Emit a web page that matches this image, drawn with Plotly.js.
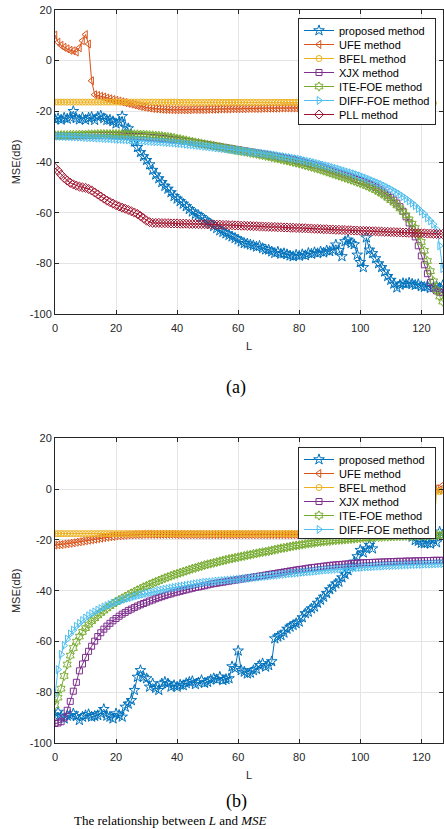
<!DOCTYPE html>
<html><head><meta charset="utf-8">
<script src="https://cdn.plot.ly/plotly-3.0.1.min.js"></script>
<style>html,body{margin:0;padding:0;background:#fff;} #chart{width:444px;height:829px;}</style>
</head><body><div id="chart"></div>
<script>
const L = [0,1,2,3,4,5,6,7,8,9,10,11,12,13,14,15,16,17,18,19,20,21,22,23,24,25,26,27,28,29,30,31,32,33,34,35,36,37,38,39,40,41,42,43,44,45,46,47,48,49,50,51,52,53,54,55,56,57,58,59,60,61,62,63,64,65,66,67,68,69,70,71,72,73,74,75,76,77,78,79,80,81,82,83,84,85,86,87,88,89,90,91,92,93,94,95,96,97,98,99,100,101,102,103,104,105,106,107,108,109,110,111,112,113,114,115,116,117,118,119,120,121,122,123,124,125,126,127];
const seriesNames = ['proposed method','UFE method','BFEL method','XJX method','ITE-FOE method','DIFF-FOE method','PLL method'];
const xTicks = [0,20,40,60,80,100,120];
const yTicks = [-100,-80,-60,-40,-20,0,20];

// ---------- panel (a) ----------
const proposedA = [
-23.2,-22.8,-23.4,-22.6,-23.0,-22.4,-20.0,-22.8,-23.3,-22.5,
-23.4,-22.6,-22.3,-23.5,-22.2,-21.8,-22.8,-23.5,-23.4,-24.0,
-24.9,-24.2,-22.0,-26.2,-26.8,-29.3,-32.0,-34.2,-36.2,-37.8,
-39.3,-41.0,-43.2,-45.0,-46.5,-48.0,-49.5,-50.6,-52.0,-53.5,
-54.5,-55.5,-56.5,-57.5,-58.6,-59.6,-60.5,-61.0,-61.8,-62.8,
-63.6,-64.4,-65.3,-66.1,-67.0,-67.6,-68.2,-68.8,-69.4,-70.0,
-70.6,-71.4,-72.0,-72.2,-72.6,-72.9,-73.4,-73.1,-74.0,-74.5,
-74.6,-75.3,-75.9,-75.4,-76.2,-76.0,-76.4,-76.9,-77.2,-76.6,
-77.0,-76.4,-76.8,-75.9,-76.2,-75.6,-76.0,-75.3,-75.7,-74.9,
-75.2,-74.6,-72.6,-74.8,-77.2,-71.3,-70.7,-72.0,-72.5,-76.6,
-79.5,-81.5,-69.8,-74.6,-76.0,-78.0,-80.0,-81.5,-83.2,-85.0,
-86.5,-88.0,-89.5,-88.4,-87.8,-88.1,-87.6,-88.0,-88.5,-88.2,
-89.0,-89.3,-88.8,-89.7,-89.4,-89.0,-89.6,-88.6];
const ufeA = [
10.0,7.2,6.0,5.2,4.6,4.0,3.8,3.3,5.0,7.8,
10.2,6.5,-8.0,-13.5,-13.8,-14.1,-14.4,-14.8,-15.1,-15.4,
-15.7,-16.0,-16.3,-16.6,-16.9,-17.2,-17.5,-17.8,-18.1,-18.3,
-18.5,-18.7,-18.9,-19.0,-19.1,-19.2,-19.3,-19.3,-19.4,-19.4,
-19.4,-19.4,-19.4,-19.4,-19.4,-19.3,-19.3,-19.3,-19.3,-19.3,
-19.2,-19.2,-19.2,-19.2,-19.1,-19.1,-19.1,-19.1,-19.0,-19.0,
-19.0,-19.0,-19.0,-18.9,-18.9,-18.9,-18.9,-18.9,-18.8,-18.8,
-18.8,-18.8,-18.8,-18.8,-18.7,-18.7,-18.7,-18.7,-18.7,-18.7,
-18.7,-18.7,-18.6,-18.6,-18.6,-18.6,-18.6,-18.6,-18.6,-18.6,
-18.6,-18.6,-18.6,-18.5,-18.5,-18.5,-18.5,-18.5,-18.5,-18.5,
-18.5,-18.5,-18.5,-18.5,-18.5,-18.5,-18.5,-18.5,-18.5,-18.5,
-18.5,-18.5,-18.5,-18.5,-18.5,-18.5,-18.5,-18.5,-18.5,-18.5,
-18.5,-18.5,-18.5,-18.6,-22.0,null,null,null];
const bfelA = [
-16.4,-16.4,-16.4,-16.4,-16.4,-16.4,-16.4,-16.4,-16.4,-16.4,
-16.4,-16.4,-16.4,-16.4,-16.4,-16.4,-16.4,-16.4,-16.4,-16.4,
-16.4,-16.4,-16.4,-16.4,-16.4,-16.4,-16.4,-16.4,-16.4,-16.4,
-16.4,-16.4,-16.4,-16.4,-16.4,-16.4,-16.4,-16.4,-16.4,-16.4,
-16.4,-16.5,-16.5,-16.5,-16.5,-16.5,-16.5,-16.5,-16.5,-16.5,
-16.5,-16.5,-16.5,-16.5,-16.5,-16.5,-16.5,-16.5,-16.5,-16.5,
-16.5,-16.5,-16.5,-16.5,-16.5,-16.5,-16.5,-16.5,-16.5,-16.5,
-16.5,-16.5,-16.5,-16.5,-16.5,-16.5,-16.5,-16.5,-16.5,-16.5,
-16.5,-16.6,-16.6,-16.6,-16.6,-16.6,-16.6,-16.6,-16.6,-16.6,
-16.6,-16.6,-16.6,-16.6,-16.6,-16.6,-16.6,-16.6,-16.6,-16.6,
-16.6,-16.6,-16.6,-16.6,-16.6,-16.6,-16.6,-16.6,-16.6,-16.6,
-16.6,-16.7,-16.7,-16.7,-16.7,-16.7,-16.7,-16.7,-16.7,-16.7,
-16.7,-16.7,-16.7,-16.7,-16.8,null,null,null];
const xjxA = [
-29.6,-29.6,-29.6,-29.6,-29.6,-29.6,-29.6,-29.6,-29.6,-29.6,
-29.6,-29.6,-29.6,-29.6,-29.6,-29.6,-29.6,-29.6,-29.6,-29.6,
-29.6,-29.7,-29.7,-29.8,-29.8,-29.9,-29.9,-30.0,-30.0,-30.1,
-30.2,-30.3,-30.4,-30.5,-30.6,-30.7,-30.8,-31.0,-31.1,-31.2,
-31.4,-31.5,-31.7,-31.9,-32.0,-32.2,-32.4,-32.6,-32.8,-33.0,
-33.2,-33.4,-33.6,-33.8,-34.0,-34.2,-34.4,-34.6,-34.8,-35.0,
-35.2,-35.4,-35.6,-35.8,-36.0,-36.2,-36.4,-36.6,-36.8,-37.0,
-37.2,-37.4,-37.7,-37.9,-38.1,-38.4,-38.6,-38.9,-39.1,-39.4,
-39.7,-40.0,-40.3,-40.6,-40.9,-41.2,-41.5,-41.9,-42.3,-42.7,
-43.1,-43.5,-43.9,-44.3,-44.7,-45.1,-45.5,-45.9,-46.4,-46.9,
-47.3,-47.8,-48.3,-48.8,-49.4,-50.0,-50.7,-51.4,-52.2,-53.1,
-54.0,-55.0,-56.2,-57.6,-59.4,-61.6,-64.0,-66.6,-69.5,-73.0,
-77.0,-80.5,-84.0,-87.5,-89.7,-90.8,-91.3,-91.5];
const iteA = [
-29.5,-29.5,-29.4,-29.4,-29.4,-29.3,-29.3,-29.3,-29.2,-29.2,
-29.2,-29.1,-29.1,-29.1,-29.0,-29.0,-29.0,-29.0,-29.0,-29.0,
-29.0,-29.0,-29.0,-29.0,-29.0,-29.0,-29.1,-29.1,-29.2,-29.2,
-29.3,-29.4,-29.5,-29.6,-29.7,-29.8,-30.0,-30.1,-30.3,-30.5,
-30.8,-31.0,-31.3,-31.5,-31.8,-32.0,-32.3,-32.5,-32.7,-33.0,
-33.2,-33.4,-33.6,-33.9,-34.1,-34.3,-34.6,-34.8,-35.0,-35.3,
-35.5,-35.7,-35.9,-36.1,-36.4,-36.6,-36.8,-37.1,-37.3,-37.6,
-37.8,-38.1,-38.4,-38.6,-38.9,-39.2,-39.4,-39.7,-40.0,-40.3,
-40.6,-40.9,-41.3,-41.6,-41.9,-42.3,-42.6,-43.0,-43.4,-43.8,
-44.2,-44.6,-45.0,-45.4,-45.8,-46.2,-46.6,-47.0,-47.4,-47.9,
-48.3,-48.8,-49.3,-49.8,-50.4,-51.0,-51.7,-52.4,-53.2,-54.1,
-55.0,-56.0,-57.1,-58.3,-59.6,-61.0,-62.6,-64.3,-66.0,-68.5,
-71.5,-75.0,-79.0,-83.0,-87.0,-90.5,-93.0,-95.0];
const diffA = [
-29.8,-29.8,-29.9,-29.9,-30.0,-30.0,-30.1,-30.1,-30.2,-30.2,
-30.3,-30.4,-30.4,-30.5,-30.6,-30.6,-30.7,-30.8,-30.8,-30.9,
-31.0,-31.1,-31.1,-31.2,-31.3,-31.3,-31.4,-31.5,-31.5,-31.6,
-31.7,-31.8,-31.9,-32.0,-32.0,-32.1,-32.2,-32.3,-32.4,-32.5,
-32.6,-32.7,-32.8,-33.0,-33.1,-33.2,-33.4,-33.5,-33.6,-33.8,
-33.9,-34.1,-34.2,-34.4,-34.5,-34.7,-34.8,-35.0,-35.1,-35.3,
-35.4,-35.6,-35.7,-35.9,-36.0,-36.2,-36.3,-36.5,-36.6,-36.8,
-36.9,-37.1,-37.3,-37.5,-37.7,-37.9,-38.1,-38.3,-38.5,-38.7,
-38.9,-39.2,-39.5,-39.8,-40.0,-40.3,-40.6,-40.9,-41.2,-41.5,
-41.8,-42.2,-42.5,-42.8,-43.2,-43.6,-44.0,-44.3,-44.7,-45.1,
-45.5,-46.0,-46.4,-46.9,-47.4,-47.9,-48.4,-48.9,-49.5,-50.1,
-50.7,-51.4,-52.1,-52.8,-53.6,-54.4,-55.3,-56.2,-57.2,-58.3,
-59.4,-60.5,-62.0,-63.2,-64.5,-66.5,-73.0,-82.0];
const pllA = [
-42.3,-43.5,-45.0,-46.3,-47.3,-48.2,-48.8,-49.3,-49.7,-50.0,
-50.2,-50.6,-51.2,-52.0,-52.8,-53.6,-54.4,-55.2,-55.8,-56.4,
-57.0,-57.5,-58.0,-58.4,-58.9,-59.4,-59.9,-60.5,-61.3,-62.2,
-63.1,-63.7,-64.0,-64.0,-64.0,-64.1,-64.1,-64.1,-64.2,-64.2,
-64.2,-64.3,-64.3,-64.3,-64.4,-64.4,-64.4,-64.5,-64.5,-64.5,
-64.6,-64.6,-64.6,-64.7,-64.7,-64.8,-64.8,-64.9,-64.9,-65.0,
-65.0,-65.1,-65.1,-65.2,-65.2,-65.3,-65.3,-65.4,-65.4,-65.5,
-65.5,-65.6,-65.6,-65.7,-65.7,-65.8,-65.8,-65.9,-65.9,-66.0,
-66.0,-66.1,-66.1,-66.2,-66.2,-66.3,-66.3,-66.4,-66.5,-66.5,
-66.6,-66.6,-66.7,-66.7,-66.8,-66.8,-66.9,-66.9,-67.0,-67.0,
-67.1,-67.1,-67.2,-67.2,-67.3,-67.3,-67.4,-67.4,-67.5,-67.5,
-67.6,-67.6,-67.7,-67.7,-67.8,-67.8,-67.9,-67.9,-68.0,-68.0,
-68.1,-68.1,-68.2,-68.2,-68.3,-68.3,-68.4,-68.4];

// ---------- panel (b) ----------
const proposedB = [
-89.0,-87.7,-89.5,-90.3,-89.2,-89.0,-88.3,-89.4,-90.9,-89.6,
-89.0,-88.6,-89.6,-89.3,-89.0,-88.2,-86.6,-89.2,-89.6,-90.3,
-88.3,-88.9,-89.6,-85.7,-84.5,-83.1,-79.1,-73.9,-71.3,-73.9,
-74.5,-77.8,-76.5,-78.3,-79.1,-76.5,-75.9,-76.5,-77.8,-77.2,
-77.8,-77.0,-77.2,-76.4,-75.9,-75.6,-76.8,-76.1,-75.2,-76.3,
-75.9,-75.0,-74.5,-74.9,-73.9,-75.2,-74.8,-74.5,-69.8,-70.5,
-63.6,-71.3,-71.9,-72.6,-72.3,-71.3,-70.8,-69.3,-68.6,-69.9,
-69.3,-67.8,-58.8,-58.1,-57.5,-56.5,-55.0,-54.2,-53.5,-52.8,
-52.2,-50.5,-48.9,-48.3,-47.0,-46.3,-44.8,-43.6,-42.4,-41.0,
-39.5,-38.5,-37.2,-36.5,-34.8,-33.5,-32.0,-30.2,-28.6,-26.5,
-24.0,-25.0,-23.4,-22.0,-23.4,-17.5,-16.8,-17.2,-16.5,-16.9,
-16.3,-16.7,-16.2,-16.6,-16.8,-16.4,-17.0,-18.8,-20.1,-20.4,
-21.2,-21.4,-21.1,-21.5,-20.0,-21.0,-16.8,-18.0];
const ufeB = [
-22.0,-21.9,-21.8,-21.6,-21.5,-21.3,-21.1,-20.9,-20.7,-20.5,
-20.3,-20.1,-19.9,-19.7,-19.5,-19.3,-19.1,-18.9,-18.7,-18.6,
-18.4,-18.3,-18.2,-18.1,-18.0,-18.0,-17.9,-17.9,-17.9,-17.8,
-17.8,-17.8,-17.8,-17.8,-17.8,-17.8,-17.8,-17.8,-17.8,-17.8,
-17.9,-17.9,-17.9,-17.9,-17.9,-17.9,-17.9,-17.9,-17.9,-17.9,
-17.9,-17.9,-17.9,-17.9,-17.9,-17.9,-17.9,-17.9,-17.9,-17.9,
-17.9,-17.9,-17.9,-17.9,-17.9,-17.9,-17.9,-17.9,-17.9,-17.9,
-17.9,-17.9,-17.9,-17.9,-17.9,-17.9,-17.9,-17.9,-17.9,-17.9,
-17.9,-17.9,-17.9,-17.9,-17.9,-17.9,-17.9,-17.9,-17.9,-17.9,
-17.9,-17.9,-17.9,-17.9,-17.9,-17.9,-17.9,-17.9,-17.9,-17.9,
-17.9,-17.9,-17.9,-17.9,-17.9,-17.9,-17.9,-17.9,-17.9,-17.9,
-17.9,-17.9,-17.9,-17.9,-17.9,-17.9,-17.9,-17.9,-17.9,-17.9,
-17.9,-17.9,-17.9,-17.9,6.2,0.2,-0.3,1.5];
const bfelB = [
-17.5,-17.5,-17.5,-17.5,-17.5,-17.5,-17.5,-17.5,-17.5,-17.5,
-17.5,-17.5,-17.5,-17.5,-17.5,-17.5,-17.5,-17.5,-17.5,-17.5,
-17.5,-17.5,-17.5,-17.5,-17.5,-17.5,-17.5,-17.5,-17.5,-17.5,
-17.5,-17.5,-17.5,-17.5,-17.5,-17.5,-17.5,-17.5,-17.5,-17.5,
-17.5,-17.5,-17.5,-17.5,-17.5,-17.5,-17.5,-17.5,-17.5,-17.5,
-17.5,-17.5,-17.5,-17.5,-17.5,-17.5,-17.5,-17.5,-17.5,-17.5,
-17.5,-17.5,-17.5,-17.5,-17.5,-17.5,-17.5,-17.5,-17.5,-17.5,
-17.5,-17.5,-17.5,-17.5,-17.5,-17.5,-17.5,-17.5,-17.5,-17.5,
-17.5,-17.5,-17.5,-17.5,-17.5,-17.5,-17.5,-17.5,-17.5,-17.5,
-17.5,-17.5,-17.5,-17.5,-17.5,-17.5,-17.5,-17.5,-17.5,-17.5,
-17.5,-17.5,-17.5,-17.5,-17.5,-17.5,-17.5,-17.5,-17.5,-17.5,
-17.5,-17.5,-17.5,-17.5,-17.5,-17.5,-17.5,-17.5,-17.5,-17.5,
-17.5,-17.5,-17.5,-17.5,-17.3,-0.8,-1.0,-0.5];
const xjxB = [
-92.2,-92.0,-91.5,-90.0,-87.0,-83.5,-79.5,-76.0,-71.5,-68.8,
-66.2,-63.8,-61.8,-59.8,-58.0,-56.5,-55.1,-53.9,-52.8,-51.8,
-50.9,-50.0,-49.2,-48.5,-47.8,-47.2,-46.6,-46.0,-45.5,-45.0,
-44.5,-44.0,-43.6,-43.1,-42.7,-42.3,-41.9,-41.5,-41.2,-40.8,
-40.5,-40.2,-39.9,-39.6,-39.3,-39.0,-38.7,-38.5,-38.2,-38.0,
-37.7,-37.4,-37.2,-37.0,-36.8,-36.6,-36.4,-36.2,-36.0,-35.8,
-35.6,-35.4,-35.2,-35.0,-34.8,-34.6,-34.4,-34.2,-34.0,-33.8,
-33.6,-33.4,-33.2,-33.0,-32.8,-32.6,-32.4,-32.2,-32.0,-31.8,
-31.6,-31.5,-31.3,-31.1,-30.9,-30.8,-30.6,-30.5,-30.3,-30.2,
-30.0,-29.9,-29.8,-29.7,-29.6,-29.5,-29.4,-29.3,-29.2,-29.1,
-29.0,-29.0,-28.9,-28.9,-28.8,-28.8,-28.7,-28.7,-28.6,-28.6,
-28.5,-28.5,-28.4,-28.4,-28.4,-28.3,-28.3,-28.3,-28.2,-28.2,
-28.2,-28.1,-28.1,-28.1,-28.0,-28.0,-28.0,-28.0];
const iteB = [
-85.0,-82.0,-78.5,-73.5,-69.0,-65.5,-62.5,-60.0,-58.0,-56.2,
-54.7,-53.3,-52.0,-50.8,-49.7,-48.7,-47.8,-46.9,-46.0,-45.2,
-44.4,-43.7,-43.0,-42.3,-41.7,-41.0,-40.4,-39.8,-39.2,-38.6,
-38.1,-37.5,-37.0,-36.5,-36.0,-35.5,-35.0,-34.6,-34.1,-33.7,
-33.3,-32.9,-32.5,-32.1,-31.7,-31.3,-31.0,-30.6,-30.3,-29.9,
-29.6,-29.3,-29.0,-28.7,-28.4,-28.1,-27.8,-27.5,-27.3,-27.0,
-26.8,-26.5,-26.3,-26.0,-25.8,-25.5,-25.3,-25.0,-24.8,-24.6,
-24.4,-24.1,-23.8,-23.6,-23.3,-23.1,-22.9,-22.6,-22.4,-22.2,
-22.0,-21.8,-21.6,-21.4,-21.3,-21.1,-20.9,-20.8,-20.6,-20.5,
-20.4,-20.2,-20.1,-20.0,-19.9,-19.8,-19.7,-19.6,-19.5,-19.4,
-19.3,-19.2,-19.1,-19.1,-19.0,-18.9,-18.9,-18.8,-18.7,-18.7,
-18.6,-18.6,-18.5,-18.5,-18.5,-18.4,-18.4,-18.4,-18.3,-18.3,
-18.3,-18.3,-18.2,-18.2,-18.2,-18.2,-18.2,-18.1];
const diffB = [
-81.0,-71.0,-65.0,-61.5,-59.0,-57.0,-55.5,-54.0,-52.8,-51.7,
-50.7,-49.8,-49.0,-48.3,-47.6,-47.0,-46.4,-45.9,-45.4,-44.9,
-44.5,-44.1,-43.7,-43.3,-42.9,-42.6,-42.2,-41.9,-41.6,-41.3,
-41.0,-40.7,-40.5,-40.2,-39.9,-39.7,-39.4,-39.2,-38.9,-38.7,
-38.5,-38.3,-38.1,-37.9,-37.7,-37.5,-37.3,-37.1,-36.9,-36.7,
-36.6,-36.5,-36.4,-36.2,-36.1,-36.0,-35.9,-35.8,-35.7,-35.6,
-35.5,-35.4,-35.2,-35.1,-35.0,-34.8,-34.7,-34.6,-34.4,-34.3,
-34.2,-34.0,-33.9,-33.8,-33.6,-33.5,-33.4,-33.2,-33.1,-33.0,
-32.9,-32.7,-32.6,-32.5,-32.4,-32.3,-32.2,-32.0,-31.9,-31.8,
-31.7,-31.6,-31.5,-31.4,-31.3,-31.2,-31.1,-31.0,-31.0,-30.9,
-30.8,-30.7,-30.6,-30.6,-30.5,-30.4,-30.3,-30.3,-30.2,-30.1,
-30.1,-30.0,-30.0,-29.9,-29.9,-29.8,-29.8,-29.7,-29.7,-29.6,
-29.6,-29.5,-29.5,-29.5,-29.4,-29.4,-29.3,-29.3];

// ---------- drawing ----------
const W = 444, H = 829;
const px = v => v / W, py = v => 1 - v / H;
const SANS = 'Liberation Sans, Arial, Helvetica, sans-serif';
const SERIF = 'Liberation Serif, Times New Roman, serif';
const styles = [
  {color:'#0072BD', symbol:'star-open', size:8},
  {color:'#D95319', symbol:'triangle-left-open', size:7},
  {color:'#EDB120', symbol:'circle-open', size:6},
  {color:'#7E2F8E', symbol:'square-open', size:6},
  {color:'#77AC30', symbol:'hexagram-open', size:7},
  {color:'#4DBEEE', symbol:'triangle-right-open', size:7},
  {color:'#A2142F', symbol:'diamond-open', size:7}
];
function mk(i, y, xa, ya, lg) {
  const s = styles[i];
  return {type:'scatter', mode:'lines+markers', name:seriesNames[i], x:L, y:y,
    xaxis:xa, yaxis:ya, legend:lg, connectgaps:false,
    line:{color:s.color, width:1},
    marker:{symbol:s.symbol, size:s.size, color:s.color, line:{color:s.color, width:1}}};
}
const dataA = [proposedA, ufeA, bfelA, xjxA, iteA, diffA, pllA];
const dataB = [proposedB, ufeB, bfelB, xjxB, iteB, diffB];
const traces = [];
dataA.forEach((y,i) => traces.push(mk(i, y, 'x', 'y', 'legend')));
dataB.forEach((y,i) => traces.push(mk(i, y, 'x2', 'y2', 'legend2')));

function xAxis(anchor, dom) {
  return {domain:dom, anchor:anchor, range:[0,127.2], tickvals:xTicks, ticktext:xTicks.map(String),
    ticks:'inside', ticklen:4, tickwidth:1, tickcolor:'#262626', showline:true, linecolor:'#262626',
    linewidth:1, mirror:'ticks', showgrid:true, gridcolor:'#e4e4e4', gridwidth:1, zeroline:false,
    ticklabelstandoff:3,
    tickfont:{family:SANS, size:11, color:'#262626'},
    title:{text:'L', font:{family:SANS, size:11, color:'#262626'}, standoff:9}};
}
function yAxis(anchor, dom) {
  return {domain:dom, anchor:anchor, range:[-100,20], tickvals:yTicks, ticktext:yTicks.map(String),
    ticks:'inside', ticklen:4, tickwidth:1, tickcolor:'#262626', showline:true, linecolor:'#262626',
    linewidth:1, mirror:'ticks', showgrid:true, gridcolor:'#e4e4e4', gridwidth:1, zeroline:false,
    tickfont:{family:SANS, size:11, color:'#262626'},
    title:{text:'MSE(dB)', font:{family:SANS, size:11, color:'#262626'}, standoff:6}};
}
const xDom = [px(55), px(443.3)];
const legendBase = {xanchor:'left', yanchor:'top', bgcolor:'#ffffff', bordercolor:'#262626', borderwidth:1,
  font:{family:SANS, size:11, color:'#000000'}, itemwidth:30, tracegroupgap:0};
const layout = {
  width:W, height:H, margin:{l:0, r:0, t:0, b:0}, paper_bgcolor:'#fff', plot_bgcolor:'#fff',
  showlegend:true,
  xaxis: xAxis('y', xDom), yaxis: yAxis('x', [py(314.3), py(9.7)]),
  xaxis2: xAxis('y2', xDom), yaxis2: yAxis('x2', [py(743.3), py(438.3)]),
  legend: Object.assign({x:px(298), y:py(18)}, legendBase),
  legend2: Object.assign({x:px(298), y:py(447)}, legendBase),
  annotations:[
    {text:'(a)', xref:'paper', yref:'paper', x:px(236), y:py(387), xanchor:'center', yanchor:'middle', showarrow:false, font:{family:SERIF, size:18, color:'#000'}},
    {text:'(b)', xref:'paper', yref:'paper', x:px(236), y:py(801), xanchor:'center', yanchor:'middle', showarrow:false, font:{family:SERIF, size:18, color:'#000'}},
    {text:'The relationship between <i>L</i> and <i>MSE</i>', xref:'paper', yref:'paper', x:px(72), y:py(820), xanchor:'left', yanchor:'middle', showarrow:false, font:{family:SERIF, size:13, color:'#000'}}
  ]
};
function tighten(id, step, extra) {
  try {
    const lg = document.querySelector('g.' + id);
    if (!lg) return;
    const items = Array.from(lg.querySelectorAll('g.traces'));
    const n = items.length; if (n < 2) return;
    const parse = el => { const m = /translate\(\s*([-\d.e]+)[ ,]+([-\d.e]+)/.exec(el.getAttribute('transform') || ''); return m ? [parseFloat(m[1]), parseFloat(m[2])] : null; };
    const p0 = parse(items[0]), pl = parse(items[n-1]);
    if (!p0 || !pl) return;
    const oldStep = (pl[1] - p0[1]) / (n - 1);
    items.forEach((t, i) => { const p = parse(t); t.setAttribute('transform', 'translate(' + p[0] + ',' + (p0[1] - 3 + i * step) + ')'); });
    const bg = lg.querySelector('rect.bg');
    if (bg) { const h = parseFloat(bg.getAttribute('height')); bg.setAttribute('height', h - (n - 1) * (oldStep - step) - extra); }
  } catch (e) {}
}
Plotly.newPlot('chart', traces, layout, {staticPlot:true, displayModeBar:false}).then(() => {
  tighten('legend', 14, 8); tighten('legend2', 14, 9);
});
</script></body></html>
